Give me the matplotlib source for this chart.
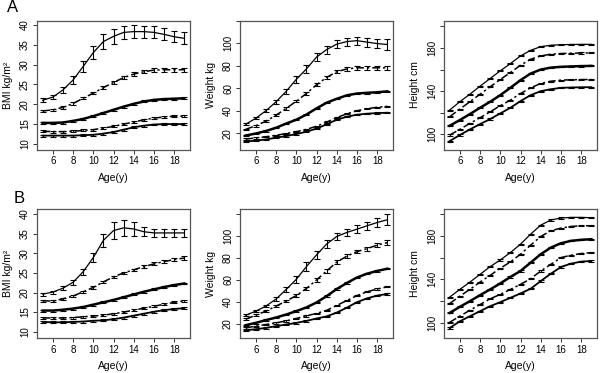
import matplotlib
matplotlib.use("Agg")
import matplotlib.pyplot as plt

plt.rcParams['font.family'] = ['Liberation Sans', 'DejaVu Sans']

# ages on the x axis
ages = [5, 6, 7, 8, 9, 10, 11, 12, 13, 14, 15, 16, 17, 18, 19]

# ---- Panel A ----
bmi_a_top = [21.0, 21.8, 23.6, 26.1, 29.5, 33.0, 35.8, 37.1, 38.1, 38.3, 38.3, 38.1, 37.6, 37.0, 36.6]
bmi_a_top_err = [0.5, 0.5, 0.7, 1.0, 1.3, 1.7, 1.8, 1.9, 1.7, 1.6, 1.5, 1.5, 1.5, 1.4, 1.5]
bmi_a_p2 = [18.3, 18.6, 19.2, 20.2, 21.5, 22.8, 24.2, 25.5, 26.7, 27.6, 28.2, 28.6, 28.7, 28.7, 28.7]
bmi_a_p2_err = [0.3, 0.3, 0.3, 0.3, 0.3, 0.3, 0.3, 0.3, 0.3, 0.4, 0.4, 0.5, 0.5, 0.5, 0.5]
bmi_a_med = [15.3, 15.3, 15.4, 15.8, 16.3, 17.0, 17.8, 18.6, 19.4, 20.1, 20.7, 21.1, 21.3, 21.4, 21.5]
bmi_a_p4 = [13.2, 13.1, 13.1, 13.2, 13.4, 13.6, 14.0, 14.4, 15.0, 15.5, 16.1, 16.5, 16.8, 17.0, 17.0]
bmi_a_low = [12.1, 12.1, 12.1, 12.1, 12.2, 12.3, 12.6, 13.0, 13.6, 14.2, 14.6, 14.9, 15.0, 15.0, 15.0]

wt_a_top = [27.9, 33.2, 39.9, 47.8, 57.1, 67.7, 77.0, 87.5, 94.2, 99.0, 101.3, 102.1, 100.8, 99.5, 98.7]
wt_a_top_err = [1.0, 1.0, 1.5, 2.0, 2.5, 3.0, 3.5, 3.5, 3.5, 3.5, 3.5, 3.5, 4.0, 4.0, 4.5]
wt_a_p2 = [23.4, 26.6, 30.6, 35.9, 42.0, 48.3, 55.2, 62.9, 69.5, 74.5, 77.0, 78.0, 78.0, 78.0, 78.0]
wt_a_p2_err = [0.7, 0.7, 0.8, 0.9, 1.0, 1.0, 1.1, 1.2, 1.2, 1.3, 1.4, 1.5, 1.5, 1.5, 1.6]
wt_a_med = [17.9, 19.7, 21.9, 24.8, 28.5, 31.9, 36.5, 42.0, 47.0, 50.5, 53.6, 55.2, 55.8, 56.3, 57.1]
wt_a_p4 = [14.7, 15.8, 16.8, 18.1, 19.7, 21.3, 23.4, 26.1, 29.8, 33.8, 37.2, 39.9, 41.7, 43.0, 43.8]
wt_a_low = [12.6, 13.4, 14.4, 16.0, 17.4, 19.2, 21.3, 24.0, 27.9, 31.9, 34.6, 36.4, 37.3, 37.8, 38.1]

ht_a_top = [122.5, 130.2, 137.2, 144.6, 151.7, 158.8, 165.5, 172.6, 177.8, 181.2, 182.5, 183.0, 183.2, 183.3, 183.3]
ht_a_p2 = [116.3, 123.4, 130.2, 137.2, 144.0, 150.8, 157.2, 164.0, 169.5, 172.6, 174.2, 174.8, 175.1, 175.3, 175.4]
ht_a_med = [108.0, 113.2, 118.8, 124.6, 130.2, 136.3, 143.1, 150.2, 156.3, 160.0, 161.8, 162.5, 162.9, 163.2, 163.4]
ht_a_p4 = [99.4, 104.6, 110.2, 115.4, 120.9, 126.5, 131.7, 137.8, 143.1, 147.1, 149.2, 150.2, 150.5, 150.7, 150.8]
ht_a_low = [93.8, 99.4, 104.6, 109.5, 114.2, 119.4, 124.6, 130.8, 136.3, 140.0, 141.8, 143.1, 143.4, 143.6, 143.7]

# ---- Panel B ----
bmi_b_top = [19.6, 20.1, 21.1, 22.6, 25.3, 28.9, 33.3, 35.8, 36.5, 36.2, 35.5, 35.2, 35.2, 35.2, 35.2]
bmi_b_top_err = [0.4, 0.4, 0.5, 0.6, 0.8, 1.1, 1.7, 2.2, 2.0, 1.7, 1.2, 1.0, 1.0, 1.0, 1.0]
bmi_b_p2 = [17.9, 17.8, 18.4, 19.1, 20.2, 21.3, 22.7, 24.0, 25.0, 25.8, 26.6, 27.3, 27.9, 28.4, 28.8]
bmi_b_p2_err = [0.3, 0.3, 0.3, 0.3, 0.3, 0.3, 0.3, 0.3, 0.3, 0.3, 0.4, 0.4, 0.4, 0.4, 0.5]
bmi_b_med = [15.4, 15.4, 15.6, 15.9, 16.3, 16.9, 17.5, 18.1, 18.8, 19.5, 20.2, 20.8, 21.4, 21.9, 22.3]
bmi_b_p4 = [13.5, 13.5, 13.5, 13.6, 13.8, 14.0, 14.2, 14.6, 15.0, 15.5, 16.0, 16.5, 17.0, 17.5, 17.9]
bmi_b_low = [12.5, 12.4, 12.4, 12.5, 12.6, 12.8, 12.9, 13.2, 13.6, 14.1, 14.6, 15.1, 15.5, 15.8, 16.0]

wt_b_top = [27.6, 31.3, 35.9, 42.3, 51.1, 60.3, 71.9, 82.6, 92.5, 99.4, 103.1, 106.1, 109.2, 112.2, 114.7]
wt_b_top_err = [1.0, 1.0, 1.0, 1.5, 2.0, 3.0, 4.0, 4.0, 4.0, 3.0, 3.0, 3.5, 3.5, 4.0, 5.0]
wt_b_p2 = [24.0, 27.6, 31.3, 35.9, 40.5, 45.5, 52.0, 59.7, 68.0, 76.0, 81.5, 85.6, 88.4, 91.5, 93.9]
wt_b_p2_err = [0.7, 0.7, 0.8, 0.9, 1.0, 1.2, 1.3, 1.4, 1.5, 1.6, 1.6, 1.7, 1.8, 1.9, 2.0]
wt_b_med = [18.5, 20.6, 23.1, 25.5, 28.2, 31.3, 34.7, 39.2, 45.0, 51.5, 57.0, 62.0, 65.5, 68.0, 70.0]
wt_b_p4 = [16.0, 17.6, 19.1, 20.6, 22.4, 24.6, 27.0, 29.2, 32.0, 36.5, 41.0, 45.5, 49.0, 51.5, 53.5]
wt_b_low = [13.9, 14.8, 16.0, 17.6, 19.1, 20.6, 22.4, 24.6, 26.5, 30.0, 34.5, 39.5, 43.0, 45.5, 47.0]

ht_b_top = [123.7, 130.8, 137.5, 144.6, 151.7, 157.8, 164.6, 172.3, 181.5, 189.8, 194.5, 196.3, 196.9, 196.9, 196.6]
ht_b_p2 = [117.8, 124.6, 130.8, 137.5, 143.7, 150.2, 156.0, 163.1, 171.4, 179.4, 184.6, 187.1, 188.6, 189.2, 189.2]
ht_b_med = [109.2, 114.8, 120.0, 125.5, 130.8, 136.3, 142.2, 147.7, 155.4, 163.1, 169.2, 173.2, 175.4, 176.3, 176.9]
ht_b_p4 = [100.6, 106.2, 111.7, 116.9, 122.2, 126.2, 130.8, 135.4, 140.6, 147.7, 153.8, 160.0, 162.2, 163.7, 164.6]
ht_b_low = [95.4, 101.5, 106.2, 110.8, 115.4, 119.1, 123.1, 127.1, 131.4, 138.5, 145.2, 151.4, 154.5, 156.3, 156.9]

# small error used for the lower curves of each measure
bmi_small_err = 0.25
wt_small_err = 0.6
ht_small_err = 0.5

x_ticks = [6, 8, 10, 12, 14, 16, 18]

fig = plt.figure(figsize=(6, 3.73), dpi=100)

dashdot = (0, (5, 2, 1.5, 2))
frame_col = '#555555'


def draw_panel(rect, curves, errs, small, ylim, yticks, ylabels, ylab):
    ax = fig.add_axes(rect)
    top, p2, med, p4, low = curves
    top_err, p2_err = errs
    ek = dict(ecolor='black', elinewidth=0.8, capsize=2.5, capthick=0.8)
    ax.errorbar(ages, top, yerr=top_err, color='black', lw=0.9, **ek)
    ax.errorbar(ages, p2, yerr=p2_err, color='black', lw=1.1, ls=dashdot, **ek)
    ax.errorbar(ages, med, yerr=small, color='black', lw=1.8, **ek)
    ax.errorbar(ages, p4, yerr=small, color='black', lw=1.1, ls=dashdot, **ek)
    ax.errorbar(ages, low, yerr=small, color='black', lw=1.3, **ek)
    ax.set_xlim(4.44, 19.56)
    ax.set_ylim(*ylim)
    ax.set_xticks(x_ticks)
    ax.set_yticks(yticks)
    ax.set_yticklabels(ylabels)
    ax.tick_params(axis='both', labelsize=7, length=3, width=0.7, pad=2, color='#333333')
    ax.tick_params(axis='y', labelrotation=90)
    for lbl in ax.get_yticklabels():
        lbl.set_va('center')
    for s in ax.spines.values():
        s.set_color(frame_col)
        s.set_linewidth(0.9)
    ax.set_xlabel('Age(y)', fontsize=7.5)
    ax.set_ylabel(ylab, fontsize=7.5)
    ax.xaxis.set_label_coords(0.5, -0.18)
    ax.yaxis.set_label_coords(-0.16, 0.5)
    return ax


col_left = [37 / 600, 240 / 600, 444 / 600]
col_w = 153 / 600
row_bottom = [(373 - 149.5) / 373, (373 - 338) / 373]
row_h = 129 / 373

bmi_ticks = [10, 15, 20, 25, 30, 35, 40]
bmi_labels = ['10', '15', '20', '25', '30', '35', '40']
wt_ticks = [20, 40, 60, 80, 100, 120]
wt_labels = ['20', '40', '60', '80', '100', '']
ht_ticks = [100, 120, 140, 160, 180, 200]
ht_labels = ['100', '', '140', '', '180', '']

# row A
draw_panel([col_left[0], row_bottom[0], col_w, row_h],
           [bmi_a_top, bmi_a_p2, bmi_a_med, bmi_a_p4, bmi_a_low],
           [bmi_a_top_err, bmi_a_p2_err], bmi_small_err,
           (8.6, 41.1), bmi_ticks, bmi_labels, 'BMI kg/m²')
draw_panel([col_left[1], row_bottom[0], col_w, row_h],
           [wt_a_top, wt_a_p2, wt_a_med, wt_a_p4, wt_a_low],
           [wt_a_top_err, wt_a_p2_err], wt_small_err,
           (5.5, 108.2), wt_ticks, wt_labels, 'Weight kg')
draw_panel([col_left[2], row_bottom[0], col_w, row_h],
           [ht_a_top, ht_a_p2, ht_a_med, ht_a_p4, ht_a_low],
           [ht_small_err, ht_small_err], ht_small_err,
           (86, 205.4), ht_ticks, ht_labels, 'Height cm')

# row B
draw_panel([col_left[0], row_bottom[1], col_w, row_h],
           [bmi_b_top, bmi_b_p2, bmi_b_med, bmi_b_p4, bmi_b_low],
           [bmi_b_top_err, bmi_b_p2_err], bmi_small_err,
           (8.4, 41.3), bmi_ticks, bmi_labels, 'BMI kg/m²')
draw_panel([col_left[1], row_bottom[1], col_w, row_h],
           [wt_b_top, wt_b_p2, wt_b_med, wt_b_p4, wt_b_low],
           [wt_b_top_err, wt_b_p2_err], wt_small_err,
           (6.8, 124.5), wt_ticks, wt_labels, 'Weight kg')
draw_panel([col_left[2], row_bottom[1], col_w, row_h],
           [ht_b_top, ht_b_p2, ht_b_med, ht_b_p4, ht_b_low],
           [ht_small_err, ht_small_err], ht_small_err,
           (86.2, 204.6), ht_ticks, ht_labels, 'Height cm')

# panel letters
fig.text(12.5 / 600, 1 - 8 / 373, 'A', fontsize=12, ha='center', va='center')
fig.text(19.5 / 600, 1 - 198.5 / 373, 'B', fontsize=12, ha='center', va='center')

fig.savefig('out.png', dpi=100)
